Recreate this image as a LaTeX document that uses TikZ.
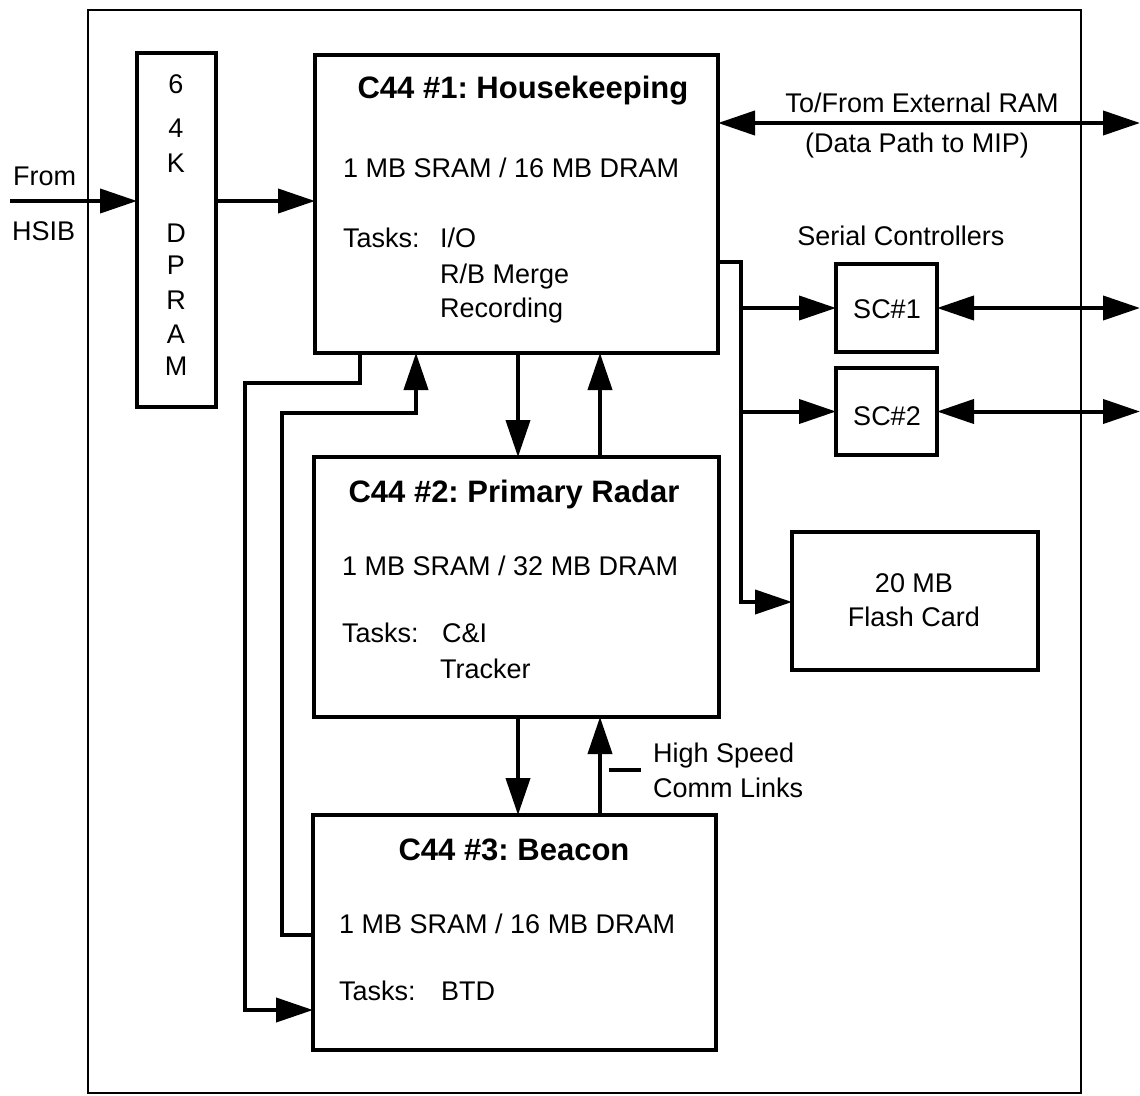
\documentclass[tikz,border=0pt]{standalone}
\usepackage{fontspec}
\setmainfont{Liberation Sans}
\usetikzlibrary{arrows.meta}
\frenchspacing
\begin{document}
\begin{tikzpicture}[x=1pt,y=-1pt,
  box/.style={draw, line width=4.5pt, inner sep=0pt, outer sep=0pt, anchor=north west},
  conn/.style={line width=4pt, -{Triangle[length=37pt,width=24pt]}},
  biconn/.style={line width=4pt, {Triangle[length=37pt,width=24pt]}-{Triangle[length=37pt,width=24pt]}},
  wire/.style={line width=4pt},
  txt/.style={anchor=base west, inner sep=0pt, font=\fontsize{27}{32}\selectfont},
  ctxt/.style={anchor=base, inner sep=0pt, font=\fontsize{27}{32}\selectfont},
  ttl/.style={anchor=base, inner sep=0pt, font=\fontsize{31}{36}\selectfont\bfseries},
]
\useasboundingbox (0,0) rectangle (1140,1095);
\fill[white] (0,0) rectangle (1140,1095);

% outer frame
\draw[line width=2pt] (88,10) rectangle (1081,1093);

% boxes
\node[box, minimum width=79pt, minimum height=354pt] (dp) at (137,53) {};
\node[box, minimum width=403pt, minimum height=298pt] (c1) at (315,55) {};
\node[box, minimum width=405pt, minimum height=260pt] (c2) at (314,457) {};
\node[box, minimum width=403pt, minimum height=235pt] (c3) at (313,815) {};
\node[box, minimum width=101pt, minimum height=88pt] (sc1) at (836,264) {};
\node[box, minimum width=101pt, minimum height=87pt] (sc2) at (836,368) {};
\node[box, minimum width=246pt, minimum height=138pt] (fl) at (792,532) {};

% DPRAM letters
\node[ctxt] (d6) at (176,93) {6};
\node[ctxt] (d4) at (176,137) {4};
\node[ctxt] (dK) at (176,172) {K};
\node[ctxt] (dD) at (176,242) {D};
\node[ctxt] (dP) at (176,274) {P};
\node[ctxt] (dR) at (176,309) {R};
\node[ctxt] (dA) at (176,343) {A};
\node[ctxt] (dM) at (176,375) {M};

% C44 #1
\node[ttl] (t1) at (523,98) {C44 \#1: Housekeeping};
\node[txt] (m1t) at (343,177) {1 MB SRAM / 16 MB DRAM};
\node[txt] (k1t) at (343,247) {Tasks:};
\node[txt] (k1a) at (440,247) {I/O};
\node[txt] (k1b) at (440,283) {R/B Merge};
\node[txt] (k1c) at (440,317) {Recording};

% C44 #2
\node[ttl] (t2) at (514,502) {C44 \#2: Primary Radar};
\node[txt] (m2t) at (342,575) {1 MB SRAM / 32 MB DRAM};
\node[txt] (k2t) at (342,642) {Tasks:};
\node[txt] (k2a) at (442,642) {C\&I};
\node[txt] (k2b) at (440,678) {Tracker};

% C44 #3
\node[ttl] (t3) at (514,860) {C44 \#3: Beacon};
\node[txt] (m3t) at (339,933) {1 MB SRAM / 16 MB DRAM};
\node[txt] (k3t) at (339,1000) {Tasks:};
\node[txt] (k3a) at (441,1000) {BTD};

% small boxes text
\node[ctxt] (s1t) at (887,318) {SC\#1};
\node[ctxt] (s2t) at (887,425) {SC\#2};
\node[ctxt] (f1t) at (914,592) {20 MB};
\node[ctxt] (f2t) at (914,626) {Flash Card};

% outside labels
\node[txt] (from) at (13,185) {From};
\node[txt] (hsibt) at (12,240) {HSIB};
\node[ctxt] (extt) at (922,112) {To/From External RAM};
\node[ctxt] (dpt) at (917,152) {(Data Path to MIP)};
\node[ctxt] (sct) at (901,245) {Serial Controllers};
\node[anchor=west, inner sep=0pt, align=left, font=\fontsize{27}{35}\selectfont] (hs) at (653,770) {High Speed\\Comm Links};
\draw[wire] ([xshift=-12pt]hs.west) -- ++(-32,0);

% coordinates
\coordinate (hsib) at (10,201);
\coordinate (ext) at (1140,123);
\coordinate (rx) at (1140,0);
\coordinate (b0) at (741,262);
\coordinate (b1) at (741,602);
\coordinate (dx) at (518,0);
\coordinate (ux) at (600,0);
\coordinate (o1) at (360,383);
\coordinate (o2) at (245,383);
\coordinate (o3) at (245,1010);
\coordinate (i1) at (282,935);
\coordinate (i2) at (282,413);
\coordinate (i3) at (416,413);

% connectors
\draw[conn] (hsib) -- (hsib -| dp.west);
\draw[conn] (hsib -| dp.east) -- (hsib -| c1.west);
\draw[biconn] (ext -| c1.east) -- (ext);
\draw[conn] (b0 -| c1.east) -- (b0) -- (b1) -- (b1 -| fl.west);
\draw[conn] (b0 |- sc1.west) -- (sc1.west);
\draw[conn] (b0 |- sc2.west) -- (sc2.west);
\draw[biconn] (sc1.east) -- (sc1.east -| rx);
\draw[biconn] (sc2.east) -- (sc2.east -| rx);
\draw[conn] (dx |- c1.south) -- (dx |- c2.north);
\draw[conn] (ux |- c2.north) -- (ux |- c1.south);
\draw[conn] (dx |- c2.south) -- (dx |- c3.north);
\draw[conn] (ux |- c3.north) -- (ux |- c2.south);
\draw[conn] (o1 |- c1.south) -- (o1) -- (o2) -- (o3) -- (o3 -| c3.west);
\draw[conn] (i1 -| c3.west) -- (i1) -- (i2) -- (i3) -- (i3 |- c1.south);
\end{tikzpicture}
\end{document}
